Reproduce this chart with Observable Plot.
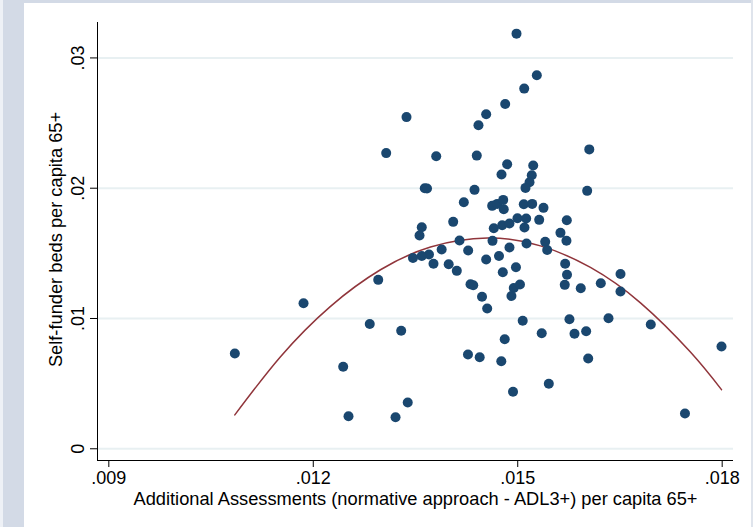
<!DOCTYPE html>
<html>
<head>
<meta charset="utf-8">
<script src="https://cdn.jsdelivr.net/npm/d3@7"></script>
<script src="https://cdn.jsdelivr.net/npm/@observablehq/plot@0.6"></script>
<style>
  html, body { margin: 0; padding: 0; background: #ffffff; }
</style>
</head>
<body>
<div id="chart"></div>
<script>
// Additional Assessments (normative approach - ADL3+) per capita 65+
const assessments = [
  0.010849, 0.011857, 0.012439, 0.012517, 0.012953, 0.012829, 0.013290, 0.013207, 0.013386, 0.013070,
  0.013368, 0.013804, 0.013636, 0.013669, 0.014537, 0.014424, 0.014816, 0.014399, 0.014845, 0.014762,
  0.015227, 0.015206, 0.015173, 0.015114, 0.016050, 0.016019, 0.014366, 0.014209, 0.014625, 0.014699,
  0.014787, 0.014795, 0.015089, 0.015212, 0.015378, 0.014053, 0.013592, 0.013559, 0.014649, 0.014772,
  0.014879, 0.014996, 0.015124, 0.015099, 0.015315, 0.015720, 0.015627, 0.015715, 0.014146, 0.014630,
  0.015129, 0.015403, 0.015432, 0.014879, 0.014273, 0.013884, 0.013698, 0.013592, 0.013463, 0.013764,
  0.013987, 0.014106, 0.014537, 0.014725, 0.014781, 0.014974, 0.015696, 0.015723, 0.016508, 0.014307,
  0.014347, 0.014476, 0.014552, 0.014942, 0.015033, 0.014908, 0.015690, 0.015925, 0.016219, 0.016508,
  0.015073, 0.015352, 0.015759, 0.015833, 0.016004, 0.016332, 0.016952, 0.014809, 0.014270, 0.014442,
  0.014759, 0.016034, 0.014931, 0.015456, 0.017454, 0.017990, 0.014982, 0.015280, 0.015095
];
// Self-funder beds per capita 65+
const selfFunderBeds = [
  0.007312, 0.011172, 0.006292, 0.002501, 0.012967, 0.009576, 0.009054, 0.002425, 0.003553, 0.022696,
  0.025458, 0.022451, 0.019996, 0.019980, 0.025673, 0.024829, 0.026471, 0.022504, 0.021837, 0.021047,
  0.021737, 0.020993, 0.020456, 0.020026, 0.022980, 0.019796, 0.019873, 0.018921, 0.018645, 0.018798,
  0.019105, 0.018384, 0.018768, 0.018798, 0.018491, 0.017417, 0.017003, 0.016366, 0.016926, 0.017156,
  0.017287, 0.017694, 0.017671, 0.016980, 0.017571, 0.017540, 0.016573, 0.015967, 0.015983, 0.015960,
  0.015752, 0.015883, 0.015254, 0.015445, 0.015215, 0.015292, 0.014908, 0.014793, 0.014640, 0.014202,
  0.014164, 0.013657, 0.014525, 0.014793, 0.013550, 0.013934, 0.014202, 0.013358, 0.013412, 0.012630,
  0.012553, 0.011663, 0.010765, 0.012338, 0.012606, 0.011724, 0.012583, 0.012323, 0.012706, 0.012069,
  0.009829, 0.008870, 0.009944, 0.008824, 0.009023, 0.010021, 0.009537, 0.008402, 0.007235, 0.007028,
  0.006714, 0.006929, 0.004381, 0.004987, 0.002709, 0.007849, 0.031865, 0.028666, 0.027645
];
// Quadratic fit line
const fitX = [0.010849, 0.011519, 0.012253, 0.012986, 0.013720, 0.014556, 0.015334, 0.016067, 0.016801, 0.017534, 0.017990];
const fitY = [0.002601, 0.007067, 0.010934, 0.013742, 0.015484, 0.016174, 0.015576, 0.013918, 0.011202, 0.007420, 0.004535];

const xTicks = [0.009, 0.012, 0.015, 0.018];
const xTickLabels = [".009", ".012", ".015", ".018"];
const yTicks = [0, 0.01, 0.02, 0.03];
const yTickLabels = ["0", ".01", ".02", ".03"];
const xTitle = "Additional Assessments (normative approach - ADL3+) per capita 65+";
const yTitle = "Self-funder beds per capita 65+";

const points = assessments.map((x, i) => ({x, y: selfFunderBeds[i]}));
const fit = fitX.map((x, i) => ({x, y: fitY[i]}));

const X0 = 0.008834, X1 = 0.018166, Y0 = -0.0009, Y1 = 0.03272;
const font = "'Liberation Sans', Arial, Helvetica, sans-serif";

const chart = Plot.plot({
  width: 753,
  height: 527,
  marginLeft: 97,
  marginRight: 20,
  marginTop: 22,
  marginBottom: 67,
  style: {
    fontFamily: font,
    fontSize: "18px",
    color: "#000",
    background: "linear-gradient(to right, #eef1f6 0 3px, #d3dae6 3px 24px, transparent 24px), linear-gradient(to left, #dfe4ec 0 2px, transparent 2px), linear-gradient(to bottom, #d3dae6 0 3px, #ffffff 3px)"
  },
  x: {domain: [X0, X1]},
  y: {domain: [Y0, Y1]},
  marks: [
    Plot.gridY(yTicks, {stroke: "#e8f0f2", strokeOpacity: 1, strokeWidth: 2}),
    Plot.ruleX([X0], {stroke: "#000", strokeWidth: 1}),
    Plot.ruleY([Y0], {stroke: "#000", strokeWidth: 1}),
    Plot.axisX(xTicks, {
      tickSize: 7, tickPadding: 4, label: null, stroke: "#000",
      tickFormat: d => xTickLabels[xTicks.indexOf(d)]
    }),
    Plot.axisY(yTicks, {
      tickSize: 7, tickPadding: 7, tickRotate: -90, label: null, stroke: "#000",
      tickFormat: d => yTickLabels[yTicks.indexOf(d)]
    }),
    Plot.line(fit, {x: "x", y: "y", stroke: "#90353b", strokeWidth: 1.5, curve: "natural"}),
    Plot.dot(points, {x: "x", y: "y", r: 5, fill: "#1a476f", stroke: "none"}),
    Plot.text([xTitle], {text: d => d, frameAnchor: "bottom", dy: 39, lineAnchor: "middle", textAnchor: "middle", fill: "#000", fontSize: 18.25}),
    Plot.text([yTitle], {text: d => d, frameAnchor: "left", dx: -41, dy: -2, rotate: -90, textAnchor: "middle", lineAnchor: "middle", fill: "#000", fontSize: 18.25})
  ]
});
document.getElementById("chart").appendChild(chart);
</script>
</body>
</html>
